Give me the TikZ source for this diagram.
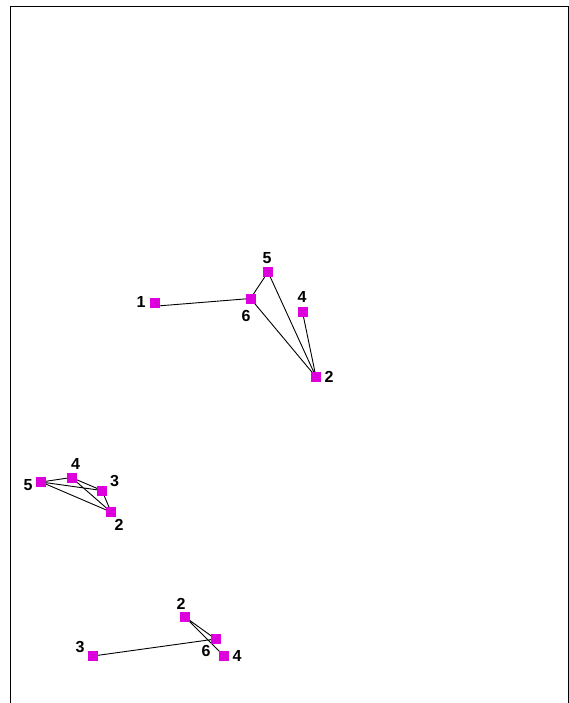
\documentclass[tikz,border=0pt]{standalone}
\usepackage{fontspec}
\setmainfont{Liberation Sans}
\definecolor{vmag}{RGB}{221,0,221}
\begin{document}
\begin{tikzpicture}[x=1pt,y=-1pt,
  vtx/.style={fill=vmag,draw=none,minimum size=10pt,inner sep=0pt,rectangle},
  lbl/.style={font=\bfseries\fontsize{16}{16}\selectfont,inner sep=0pt},
  edge/.style={draw=black,line width=0.9pt}]
\useasboundingbox (0,0) rectangle (569,703);
\draw[line width=1pt] (10.5,703) -- (10.5,6.5) -- (568,6.5) -- (568,703);
% group 1
\coordinate (a1) at (154.5,303);
\coordinate (a6) at (250.5,298.5);
\coordinate (a5) at (268,272);
\coordinate (a4) at (302.5,312);
\coordinate (a2) at (316,377);
\draw[edge] ([shift={(3,3)}]a1) -- (a6) (a6) -- (a5) (a6) -- (a2) (a5) -- (a2) (a4) -- (a2);
\node[vtx] (n1) at (a1) {};
\node[vtx] (n6) at (a6) {};
\node[vtx] (n5) at (a5) {};
\node[vtx] (n4) at (a4) {};
\node[vtx] (n2) at (a2) {};
\node[lbl] (l1) at (141,302) {1};
\node[lbl] (l6) at (246,316) {6};
\node[lbl] (l5) at (267,258) {5};
\node[lbl] (l4) at (302,297) {4};
\node[lbl] (l2) at (329,377) {2};
% group 2
\coordinate (b5) at (41,482);
\coordinate (b4) at (71.5,477.5);
\coordinate (b3) at (102,490.5);
\coordinate (b2) at (111,512);
\draw[edge] (b5) -- (b4) (b5) -- (b3) (b5) -- (b2) (b4) -- (b3) (b4) -- (b2) (b3) -- (b2);
\node[vtx] (m5) at (b5) {};
\node[vtx] (m4) at (b4) {};
\node[vtx] (m3) at (b3) {};
\node[vtx] (m2) at (b2) {};
\node[lbl] (k5) at (28,485) {5};
\node[lbl] (k4) at (75.5,464) {4};
\node[lbl] (k3) at (114.5,481) {3};
\node[lbl] (k2) at (119,525) {2};
% group 3
\coordinate (c2) at (185,617);
\coordinate (c6) at (215.5,639);
\coordinate (c4) at (224,656);
\coordinate (c3) at (93,656);
\draw[edge] (c3) -- (c6) (c2) -- (c6) (c2) -- (c4);
\node[vtx] (p2) at (c2) {};
\node[vtx] (p6) at (c6) {};
\node[vtx] (p4) at (c4) {};
\node[vtx] (p3) at (c3) {};
\node[lbl] (q2) at (181,604) {2};
\node[lbl] (q6) at (206,651) {6};
\node[lbl] (q4) at (237,656) {4};
\node[lbl] (q3) at (80,647) {3};
\end{tikzpicture}
\end{document}
